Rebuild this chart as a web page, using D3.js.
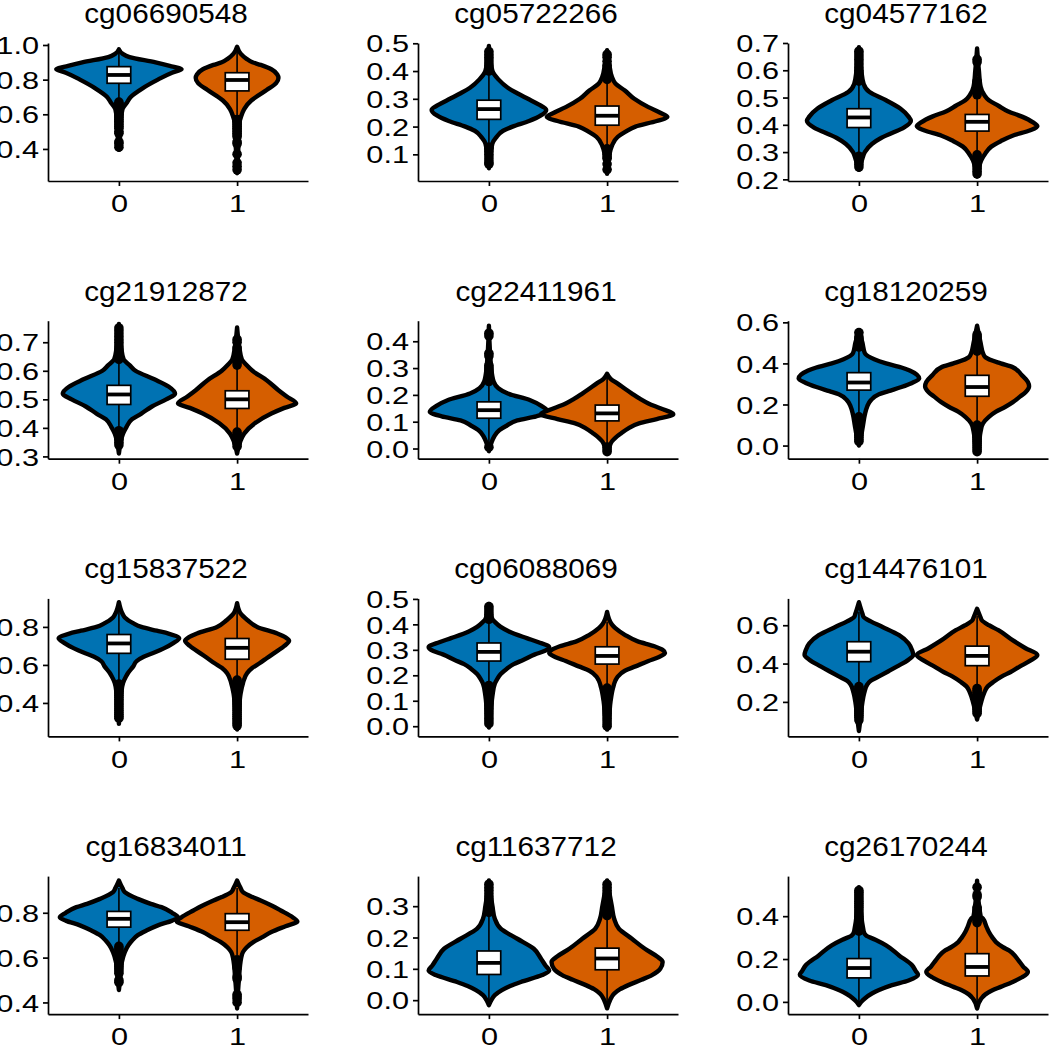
<!DOCTYPE html>
<html>
<head>
<meta charset="utf-8">
<script src="https://cdn.jsdelivr.net/npm/d3@7"></script>
<style>
  html, body { margin: 0; padding: 0; background: #ffffff; }
  svg { display: block; }
</style>
</head>
<body>
<script>
// ---------------- DATA ----------------
const titles = ["cg06690548","cg05722266","cg04577162",
                "cg21912872","cg22411961","cg18120259",
                "cg15837522","cg06088069","cg14476101",
                "cg16834011","cg11637712","cg26170244"];
const groups = ["0","1"];
const groupColors = ["#0072B2","#D55E00"];

// visible y-axis limits per panel
const yDomain = [
  [0.215,1.0115],[0.004,0.501],[0.194,0.700],
  [0.292,0.7755],[-0.038,0.4767],[-0.064,0.608],
  [0.224,0.950],[-0.040,0.502],[0.020,0.740],
  [0.348,0.9636],[-0.0445,0.396],[-0.057,0.587]];

const yTicks = [
  [0.4,0.6,0.8,1.0],[0.1,0.2,0.3,0.4,0.5],[0.2,0.3,0.4,0.5,0.6,0.7],
  [0.3,0.4,0.5,0.6,0.7],[0.0,0.1,0.2,0.3,0.4],[0.0,0.2,0.4,0.6],
  [0.4,0.6,0.8],[0.0,0.1,0.2,0.3,0.4,0.5],[0.2,0.4,0.6],
  [0.4,0.6,0.8],[0.0,0.1,0.2,0.3],[0.0,0.2,0.4]];

// violin profiles: [value, half-width in category units]
const violin0 = [
  [[0.975,0],[0.95,0.03],[0.93,0.09],[0.9,0.31],[0.88,0.43],[0.86,0.53],[0.84,0.45],[0.8,0.33],[0.75,0.2],[0.7,0.1],[0.67,0.07],[0.63,0.03],[0.55,0.015],[0.42,0.005],[0.395,0]],
  [[0.49,0],[0.45,0.01],[0.4,0.03],[0.37,0.08],[0.34,0.16],[0.32,0.24],[0.3,0.33],[0.28,0.42],[0.26,0.485],[0.24,0.44],[0.22,0.34],[0.2,0.2],[0.185,0.12],[0.16,0.06],[0.14,0.03],[0.1,0.015],[0.05,0]],
  [[0.685,0],[0.6,0.02],[0.55,0.04],[0.52,0.09],[0.49,0.23],[0.46,0.35],[0.43,0.42],[0.415,0.44],[0.39,0.38],[0.37,0.28],[0.35,0.18],[0.33,0.11],[0.3,0.05],[0.27,0.025],[0.235,0]],
  [[0.764,0],[0.68,0.02],[0.64,0.04],[0.62,0.09],[0.6,0.14],[0.57,0.3],[0.545,0.42],[0.52,0.475],[0.5,0.4],[0.475,0.28],[0.45,0.19],[0.43,0.11],[0.4,0.06],[0.38,0.035],[0.35,0.015],[0.31,0]],
  [[0.458,0],[0.3,0.02],[0.25,0.04],[0.225,0.08],[0.205,0.16],[0.18,0.35],[0.16,0.44],[0.137,0.5],[0.12,0.4],[0.105,0.24],[0.085,0.15],[0.069,0.09],[0.045,0.045],[0.02,0.02],[-0.01,0]],
  [[0.56,0],[0.5,0.03],[0.45,0.05],[0.42,0.13],[0.4,0.23],[0.38,0.36],[0.365,0.43],[0.345,0.49],[0.326,0.51],[0.305,0.45],[0.285,0.36],[0.265,0.25],[0.25,0.17],[0.22,0.1],[0.19,0.07],[0.15,0.05],[0.1,0.035],[0.05,0.02],[0.0,0]],
  [[0.93,0],[0.87,0.03],[0.85,0.05],[0.82,0.12],[0.8,0.19],[0.78,0.32],[0.765,0.42],[0.74,0.51],[0.715,0.46],[0.687,0.38],[0.665,0.3],[0.643,0.21],[0.62,0.15],[0.591,0.12],[0.56,0.08],[0.539,0.06],[0.505,0.035],[0.45,0.02],[0.29,0]],
  [[0.48,0],[0.42,0.03],[0.41,0.05],[0.39,0.1],[0.372,0.17],[0.346,0.32],[0.33,0.42],[0.31,0.51],[0.295,0.47],[0.282,0.39],[0.26,0.29],[0.244,0.21],[0.225,0.15],[0.205,0.1],[0.185,0.07],[0.167,0.05],[0.12,0.03],[0.05,0.015],[-0.005,0]],
  [[0.72,0],[0.66,0.03],[0.643,0.04],[0.62,0.1],[0.591,0.2],[0.548,0.34],[0.505,0.42],[0.47,0.45],[0.445,0.46],[0.42,0.42],[0.384,0.32],[0.36,0.25],[0.333,0.17],[0.31,0.1],[0.29,0.07],[0.247,0.045],[0.2,0.03],[0.12,0.015],[0.048,0]],
  [[0.944,0],[0.91,0.03],[0.892,0.05],[0.862,0.16],[0.84,0.27],[0.825,0.36],[0.8,0.45],[0.78,0.5],[0.765,0.45],[0.744,0.33],[0.72,0.23],[0.7,0.16],[0.675,0.11],[0.655,0.08],[0.625,0.05],[0.58,0.025],[0.5,0.01],[0.455,0]],
  [[0.382,0],[0.3,0.03],[0.26,0.05],[0.228,0.1],[0.196,0.24],[0.164,0.38],[0.133,0.44],[0.11,0.48],[0.095,0.51],[0.08,0.45],[0.058,0.27],[0.045,0.18],[0.032,0.11],[0.016,0.05],[0.0,0.02],[-0.016,0]],
  [[0.535,0],[0.33,0.04],[0.31,0.06],[0.29,0.14],[0.264,0.23],[0.217,0.34],[0.171,0.45],[0.145,0.48],[0.127,0.5],[0.1,0.42],[0.078,0.28],[0.055,0.17],[0.039,0.11],[0.016,0.05],[0.0,0.02],[-0.015,0]]
];
const violin1 = [
  [[0.99,0],[0.95,0.03],[0.92,0.08],[0.9,0.13],[0.885,0.2],[0.86,0.29],[0.83,0.34],[0.81,0.35],[0.78,0.33],[0.74,0.25],[0.7,0.16],[0.68,0.12],[0.63,0.06],[0.59,0.035],[0.55,0.02],[0.4,0.01],[0.26,0]],
  [[0.475,0],[0.42,0.02],[0.38,0.04],[0.355,0.07],[0.33,0.15],[0.3,0.23],[0.27,0.35],[0.25,0.45],[0.235,0.51],[0.22,0.42],[0.2,0.24],[0.18,0.15],[0.163,0.09],[0.13,0.04],[0.1,0.02],[0.03,0]],
  [[0.68,0],[0.6,0.015],[0.54,0.03],[0.51,0.06],[0.49,0.1],[0.47,0.18],[0.45,0.26],[0.43,0.38],[0.41,0.47],[0.395,0.51],[0.38,0.45],[0.36,0.3],[0.34,0.2],[0.32,0.12],[0.295,0.07],[0.27,0.035],[0.24,0.015],[0.21,0]],
  [[0.752,0],[0.68,0.02],[0.64,0.04],[0.62,0.08],[0.6,0.13],[0.567,0.25],[0.532,0.35],[0.51,0.42],[0.486,0.5],[0.47,0.4],[0.45,0.29],[0.416,0.15],[0.38,0.06],[0.35,0.025],[0.31,0]],
  [[0.279,0],[0.26,0.03],[0.242,0.09],[0.22,0.16],[0.205,0.21],[0.185,0.28],[0.168,0.35],[0.15,0.45],[0.128,0.56],[0.11,0.42],[0.094,0.27],[0.075,0.18],[0.057,0.12],[0.04,0.07],[0.026,0.04],[0.0,0.015],[-0.017,0]],
  [[0.584,0],[0.5,0.03],[0.45,0.05],[0.43,0.07],[0.4,0.2],[0.382,0.3],[0.342,0.38],[0.31,0.43],[0.289,0.44],[0.26,0.41],[0.237,0.36],[0.21,0.3],[0.189,0.24],[0.165,0.16],[0.14,0.1],[0.108,0.05],[0.07,0.03],[0.0,0.015],[-0.037,0]],
  [[0.925,0],[0.87,0.03],[0.835,0.09],[0.8,0.17],[0.765,0.34],[0.745,0.41],[0.727,0.44],[0.7,0.4],[0.661,0.31],[0.635,0.25],[0.609,0.19],[0.585,0.13],[0.557,0.085],[0.505,0.05],[0.45,0.03],[0.35,0.015],[0.26,0]],
  [[0.449,0],[0.4,0.04],[0.385,0.07],[0.359,0.15],[0.333,0.26],[0.314,0.4],[0.3,0.47],[0.288,0.49],[0.272,0.44],[0.256,0.35],[0.235,0.24],[0.218,0.15],[0.195,0.09],[0.179,0.07],[0.15,0.05],[0.1,0.03],[0.03,0.015],[-0.013,0]],
  [[0.686,0],[0.64,0.03],[0.626,0.04],[0.6,0.1],[0.574,0.18],[0.522,0.3],[0.48,0.41],[0.445,0.51],[0.415,0.45],[0.384,0.36],[0.355,0.28],[0.333,0.21],[0.305,0.14],[0.281,0.09],[0.247,0.06],[0.2,0.035],[0.15,0.015],[0.108,0]],
  [[0.944,0],[0.91,0.03],[0.892,0.05],[0.87,0.13],[0.855,0.2],[0.83,0.3],[0.81,0.37],[0.78,0.47],[0.761,0.51],[0.74,0.41],[0.714,0.29],[0.69,0.21],[0.67,0.14],[0.645,0.08],[0.625,0.05],[0.6,0.035],[0.5,0.015],[0.373,0]],
  [[0.382,0],[0.3,0.04],[0.26,0.06],[0.228,0.1],[0.196,0.21],[0.164,0.32],[0.14,0.42],[0.122,0.47],[0.1,0.45],[0.08,0.38],[0.065,0.29],[0.048,0.18],[0.035,0.11],[0.021,0.06],[0.0,0.025],[-0.026,0]],
  [[0.566,0],[0.4,0.03],[0.388,0.05],[0.35,0.08],[0.326,0.1],[0.3,0.13],[0.279,0.16],[0.255,0.22],[0.24,0.27],[0.215,0.32],[0.194,0.35],[0.165,0.39],[0.14,0.43],[0.115,0.38],[0.093,0.3],[0.07,0.2],[0.054,0.13],[0.035,0.07],[0.015,0.035],[-0.031,0]]
];

// box stats: [lower whisker, q1, median, q3, upper whisker]
const box0 = [
  [0.68,0.779,0.827,0.875,0.97],[0.13,0.226,0.263,0.295,0.39],[0.29,0.39,0.427,0.459,0.55],
  [0.40,0.482,0.517,0.549,0.63],[0.02,0.113,0.143,0.174,0.24],[0.15,0.27,0.307,0.355,0.47],
  [0.51,0.661,0.713,0.76,0.90],[0.17,0.256,0.292,0.327,0.41],[0.29,0.41,0.462,0.514,0.67],
  [0.66,0.736,0.773,0.806,0.91],[-0.01,0.082,0.119,0.157,0.27],[-0.01,0.112,0.158,0.202,0.32]];
const box1 = [
  [0.58,0.735,0.798,0.84,0.98],[0.125,0.205,0.239,0.274,0.36],[0.295,0.377,0.411,0.438,0.50],
  [0.39,0.468,0.50,0.53,0.61],[0.015,0.103,0.131,0.162,0.27],[0.105,0.24,0.285,0.342,0.45],
  [0.53,0.63,0.69,0.739,0.90],[0.16,0.244,0.276,0.312,0.41],[0.28,0.389,0.44,0.491,0.65],
  [0.61,0.722,0.758,0.796,0.91],[-0.02,0.097,0.133,0.166,0.265],[-0.02,0.121,0.163,0.225,0.36]];

// outlier values
const outliers0 = [
  [0.67,0.66,0.65,0.64,0.63,0.62,0.61,0.60,0.59,0.58,0.57,0.56,0.55,0.54,0.53,0.52,0.50,0.49,0.44,0.43,0.41],
  [0.40,0.41,0.42,0.43,0.44,0.45,0.46,0.47,0.125,0.12,0.11,0.10,0.09,0.08,0.07,0.065],
  [0.56,0.57,0.58,0.59,0.60,0.61,0.62,0.63,0.64,0.65,0.66,0.67,0.285,0.275,0.265,0.255,0.245],
  [0.64,0.65,0.66,0.67,0.68,0.69,0.70,0.71,0.72,0.73,0.74,0.75,0.39,0.38,0.37,0.36,0.35,0.34],
  [0.25,0.26,0.27,0.28,0.29,0.30,0.31,0.345,0.355,0.42,0.43,0.005],
  [0.48,0.49,0.50,0.51,0.52,0.53,0.55,0.14,0.13,0.12,0.11,0.10,0.09,0.08,0.07,0.06,0.05,0.04,0.03,0.02],
  [0.50,0.49,0.48,0.47,0.46,0.45,0.44,0.43,0.42,0.41,0.40,0.39,0.38,0.37,0.36,0.35,0.34,0.33,0.32],
  [0.42,0.43,0.44,0.45,0.46,0.47,0.16,0.15,0.14,0.13,0.12,0.11,0.10,0.09,0.08,0.07,0.06,0.05,0.04,0.03,0.02,0.01],
  [0.28,0.27,0.26,0.25,0.24,0.23,0.22,0.21,0.20,0.19,0.18,0.17,0.16,0.15,0.14,0.13,0.12,0.105],
  [0.65,0.64,0.63,0.62,0.61,0.60,0.59,0.58,0.57,0.56,0.55,0.54,0.53,0.50,0.49],
  [0.28,0.29,0.30,0.31,0.32,0.33,0.34,0.35,0.36,0.37],
  [0.33,0.34,0.35,0.36,0.37,0.38,0.39,0.40,0.41,0.42,0.43,0.44,0.45,0.46,0.47,0.48,0.49,0.50,0.51,0.52]];
const outliers1 = [
  [0.57,0.56,0.55,0.54,0.53,0.52,0.51,0.50,0.49,0.48,0.47,0.44,0.43,0.37,0.32,0.30,0.28],
  [0.37,0.38,0.39,0.40,0.42,0.435,0.45,0.46,0.12,0.11,0.10,0.09,0.085,0.065,0.045],
  [0.51,0.52,0.53,0.54,0.55,0.56,0.63,0.64,0.29,0.28,0.27,0.26,0.25,0.24,0.23,0.22],
  [0.62,0.63,0.64,0.65,0.66,0.68,0.70,0.71,0.385,0.375,0.365,0.355,0.345,0.335],
  [0.005,-0.005,-0.012],
  [0.46,0.47,0.48,0.49,0.50,0.51,0.52,0.53,0.54,0.10,0.09,0.08,0.07,0.06,0.05,0.04,0.03,0.02,0.01,0.0,-0.01,-0.02,-0.03],
  [0.52,0.51,0.50,0.49,0.48,0.47,0.46,0.45,0.44,0.43,0.42,0.41,0.40,0.39,0.38,0.37,0.36,0.35,0.34,0.33,0.32,0.31,0.30,0.29,0.28],
  [0.15,0.14,0.13,0.12,0.11,0.10,0.09,0.08,0.07,0.06,0.05,0.04,0.03,0.02,0.01,0.0],
  [0.27,0.26,0.25,0.24,0.23,0.22,0.21,0.20,0.19,0.18,0.17,0.16,0.15,0.14],
  [0.59,0.58,0.57,0.555,0.515,0.505,0.435,0.425,0.415,0.40],
  [0.27,0.28,0.29,0.30,0.31,0.32,0.33,0.34,0.35,0.36,0.37],
  [0.37,0.38,0.39,0.40,0.41,0.42,0.43,0.44,0.49,0.50,0.535]];

// ---------------- DRAW ----------------
const FONT = "'Liberation Sans', Arial, Helvetica, sans-serif";
const colX = [48, 418, 788];
const rowTop = 43, rowStep = 277.7;
const W = 260, H = 138;
const tickSX = 1.28, titleSX = 1.1;

const svg = d3.select("body").append("svg")
  .attr("width", 1050).attr("height", 1046)
  .style("background", "#fff");

const violins = [violin0, violin1];
const boxes = [box0, box1];
const outs = [outliers0, outliers1];

titles.forEach((title, i) => {
  const r = Math.floor(i / 3), c = i % 3;
  const x0 = colX[c], y0 = rowTop + r * rowStep;
  const g = svg.append("g").attr("transform", `translate(${x0},${y0})`);

  const x = d3.scalePoint().domain(groups).range([0, W]).padding(0.6);
  const y = d3.scaleLinear().domain(yDomain[i]).range([H, 0]);
  const step = x.step();

  groups.forEach((grp, k) => {
    const cx = x(grp);
    const prof = violins[k][i];
    const area = d3.area()
      .curve(d3.curveMonotoneY)
      .y(d => y(d[0]))
      .x0(d => cx - d[1] * step)
      .x1(d => cx + d[1] * step);
    g.append("path")
      .attr("d", area(prof))
      .attr("fill", groupColors[k])
      .attr("stroke", "#000")
      .attr("stroke-width", 4.4)
      .attr("stroke-linejoin", "round");
  });

  groups.forEach((grp, k) => {
    const cx = x(grp);
    const [lo, q1, med, q3, hi] = boxes[k][i];
    const bw = 0.2 * step;
    g.append("line").attr("x1", cx).attr("x2", cx).attr("y1", y(hi)).attr("y2", y(q3))
      .attr("stroke", "#000").attr("stroke-width", 1.6);
    g.append("line").attr("x1", cx).attr("x2", cx).attr("y1", y(q1)).attr("y2", y(lo))
      .attr("stroke", "#000").attr("stroke-width", 1.6);
    g.append("rect")
      .attr("x", cx - bw / 2).attr("width", bw)
      .attr("y", y(q3)).attr("height", y(q1) - y(q3))
      .attr("fill", "#fff").attr("stroke", "#000").attr("stroke-width", 1.7);
    g.append("line").attr("x1", cx - bw / 2).attr("x2", cx + bw / 2)
      .attr("y1", y(med)).attr("y2", y(med))
      .attr("stroke", "#000").attr("stroke-width", 3.8);
    g.selectAll(null).data(outs[k][i]).join("circle")
      .attr("cx", cx).attr("cy", d => y(d)).attr("r", 4.8)
      .attr("fill", "#000");
  });

  // y axis
  const ya = g.append("g")
    .call(d3.axisLeft(y).tickValues(yTicks[i]).tickFormat(d3.format(".1f")).tickSize(5).tickSizeOuter(0));
  ya.select(".domain").attr("stroke", "#000").attr("stroke-width", 1.7);
  ya.selectAll(".tick line").attr("stroke", "#000").attr("stroke-width", 1.7);
  ya.selectAll(".tick text")
    .attr("x", -9 / tickSX).attr("dy", "0.36em")
    .attr("transform", `scale(${tickSX},1)`)
    .style("font-family", FONT).style("font-size", "24px").attr("fill", "#000");

  // x axis
  const xa = g.append("g").attr("transform", `translate(0,${H})`)
    .call(d3.axisBottom(x).tickSize(5).tickSizeOuter(0));
  xa.select(".domain").attr("stroke", "#000").attr("stroke-width", 1.7);
  xa.selectAll(".tick line").attr("stroke", "#000").attr("stroke-width", 1.7);
  xa.selectAll(".tick text")
    .attr("y", 0).attr("dy", "1.3em")
    .attr("transform", `scale(${tickSX},1)`)
    .style("font-family", FONT).style("font-size", "24px").attr("fill", "#000");

  // title
  g.append("text")
    .attr("transform", `translate(${W / 2 - 12},-20) scale(${titleSX},1)`)
    .attr("text-anchor", "middle")
    .style("font-family", FONT).style("font-size", "27px")
    .attr("fill", "#000")
    .text(title);
});
</script>
</body>
</html>
